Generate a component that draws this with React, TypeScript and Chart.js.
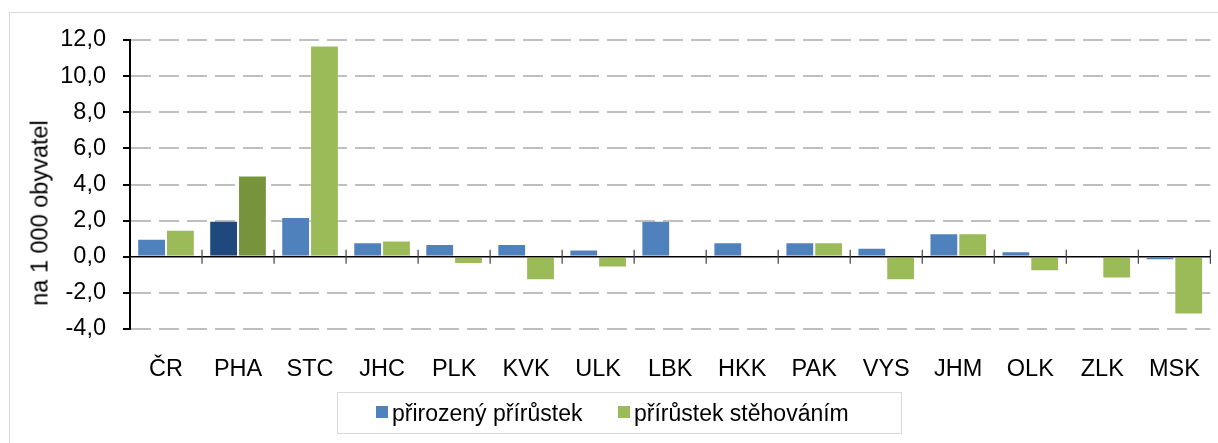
import React, { useEffect, useRef } from "react";
import { Chart, registerables } from "chart.js";

Chart.register(...registerables);

const categories = ["ČR", "PHA", "STC", "JHC", "PLK", "KVK", "ULK", "LBK", "HKK", "PAK", "VYS", "JHM", "OLK", "ZLK", "MSK"];
const natural = [1.0, 2.0, 2.2, 0.8, 0.7, 0.7, 0.4, 2.0, 0.8, 0.8, 0.5, 1.3, 0.3, 0.05, -0.2];
const migration = [1.5, 4.5, 11.7, 0.9, -0.4, -1.3, -0.6, 0.05, -0.1, 0.8, -1.3, 1.3, -0.8, -1.2, -3.2];
const seriesNames = ["přirozený přírůstek", "přírůstek stěhováním"];
const highlight = "PHA";
const yMin = -4;
const yMax = 12;
const yStep = 2;
const yTitle = "na 1 000 obyvatel";

const BLUE = "#4F81BD";
const BLUE_DARK = "#1F497D";
const GREEN = "#9BBB59";
const GREEN_DARK = "#77933C";
const FONT = "'Liberation Sans', Arial, sans-serif";

const axisMarks = {
  id: "axisMarks",
  afterDatasetsDraw(chart: any) {
    const { ctx, chartArea, scales } = chart;
    const x = scales.x;
    const y = scales.y;
    const y0 = y.getPixelForValue(0);
    ctx.save();
    ctx.strokeStyle = "#000";
    ctx.lineWidth = 1.5;
    ctx.beginPath();
    ctx.moveTo(chartArea.left, y0);
    ctx.lineTo(chartArea.right, y0);
    ctx.stroke();
    ctx.strokeStyle = "#404040";
    ctx.lineWidth = 1.2;
    const n = categories.length;
    for (let i = 1; i <= n; i++) {
      const xb = i < n ? (x.getPixelForTick(i - 1) + x.getPixelForTick(i)) / 2 : chartArea.right;
      ctx.beginPath();
      ctx.moveTo(xb, y0 - 7);
      ctx.lineTo(xb, y0 + 7);
      ctx.stroke();
    }
    ctx.restore();
  },
};

export default function App() {
  const ref = useRef<HTMLCanvasElement | null>(null);
  useEffect(() => {
    if (!ref.current) return;
    const chart = new Chart(ref.current, {
      type: "bar",
      data: {
        labels: categories,
        datasets: [
          {
            label: seriesNames[0],
            data: natural,
            backgroundColor: categories.map((c) => (c === highlight ? BLUE_DARK : BLUE)),
            borderColor: "rgba(255,255,255,0.25)",
            borderWidth: 1,
            categoryPercentage: 0.8,
            barPercentage: 1.0,
          },
          {
            label: seriesNames[1],
            data: migration,
            backgroundColor: categories.map((c) => (c === highlight ? GREEN_DARK : GREEN)),
            borderColor: "rgba(255,255,255,0.25)",
            borderWidth: 1,
            categoryPercentage: 0.8,
            barPercentage: 1.0,
          },
        ],
      },
      options: {
        responsive: false,
        animation: false,
        layout: { padding: { left: 0, top: 40, right: 6, bottom: 0 } },
        plugins: { legend: { display: false }, tooltip: { enabled: false }, title: { display: false } },
        scales: {
          x: {
            grid: { display: false },
            border: { display: false },
            ticks: { color: "#000", font: { family: FONT, size: 23.5 }, padding: 18, maxRotation: 0 },
            afterFit: (s: any) => {
              s.height = 114;
            },
          },
          y: {
            min: yMin,
            max: yMax,
            ticks: {
              stepSize: yStep,
              color: "#000",
              padding: 17,
              font: { family: FONT, size: 23.5 },
              callback: (v: any) => Number(v).toFixed(1).replace(".", ","),
            },
            grid: {
              color: (c: any) => (c.tick && c.tick.value === 0 ? "rgba(0,0,0,0)" : "#BFBFBF"),
              lineWidth: 2,
              drawTicks: true,
              tickLength: 7,
              tickColor: "#000",
              tickWidth: 2,
            },
            border: {
              display: true,
              color: "#000",
              width: 2,
              dash: (c: any) => (c.type === "tick" ? [20, 8] : []),
            },
            afterFit: (s: any) => {
              s.width = 130;
            },
          },
        },
      },
      plugins: [axisMarks],
    } as any);
    return () => chart.destroy();
  }, []);

  return (
    <div style={{ position: "fixed", left: 0, top: 0, width: 1218, height: 443, overflow: "hidden", background: "#fff", fontFamily: FONT }}>
      <div style={{ position: "absolute", left: 9, top: 12, width: 1300, height: 500, borderLeft: "1px solid #D9D9D9", borderTop: "1px solid #D9D9D9" }} />
      <canvas ref={ref} width={1218} height={443} style={{ position: "absolute", left: 0, top: 0, width: 1218, height: 443 }} />
      <div
        style={{
          position: "absolute",
          left: 40,
          top: 213,
          transform: "translate(-50%, -50%) rotate(-90deg)",
          whiteSpace: "nowrap",
          fontSize: 23.5,
          color: "#000",
        }}
      >
        {yTitle}
      </div>
      <div
        style={{
          position: "absolute",
          left: 337,
          top: 392,
          width: 565,
          height: 42,
          border: "1px solid #D9D9D9",
          boxSizing: "border-box",
          fontSize: 23,
          color: "#000",
        }}
      >
        <div style={{ position: "absolute", left: 38, top: 13, width: 12, height: 12, background: BLUE }} />
        <div style={{ position: "absolute", left: 54, top: 6, lineHeight: "28px", whiteSpace: "nowrap" }}>{seriesNames[0]}</div>
        <div style={{ position: "absolute", left: 280, top: 13, width: 12, height: 12, background: GREEN }} />
        <div style={{ position: "absolute", left: 296, top: 6, lineHeight: "28px", whiteSpace: "nowrap" }}>{seriesNames[1]}</div>
      </div>
    </div>
  );
}
